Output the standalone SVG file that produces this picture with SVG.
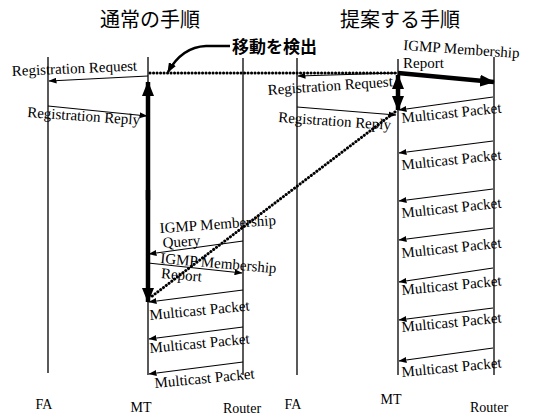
<svg xmlns="http://www.w3.org/2000/svg" width="535" height="419" viewBox="0 0 535 419">
<defs>
<style>
.bg{fill:#fff}
.life{stroke:#000;stroke-width:1.3;fill:none}
.msg{stroke:#000;stroke-width:1.2;fill:none;marker-end:url(#ah)}
.thick{stroke:#000;stroke-width:4.5;fill:none;marker-end:url(#big)}
.dots{stroke:#000;stroke-width:3;fill:none;stroke-dasharray:0.1 3.4;stroke-linecap:round}
.lbl{font-family:"Liberation Serif","DejaVu Serif",serif;font-size:15px;fill:#000}
.nm{font-family:"Liberation Serif","DejaVu Serif",serif;font-size:14px;fill:#000}
.jp{font-family:"Noto Sans CJK JP","Noto Sans",sans-serif;fill:#000}
</style>
<marker id="ah" markerUnits="userSpaceOnUse" markerWidth="8" markerHeight="6" refX="7.5" refY="3" orient="auto"><path d="M0,0 L8,3 L0,6 z" fill="#000"/></marker>
<marker id="big" markerUnits="userSpaceOnUse" markerWidth="15" markerHeight="12" refX="14" refY="6" orient="auto-start-reverse"><path d="M0,0 L15,6 L0,12 z" fill="#000"/></marker>
<marker id="cur" markerUnits="userSpaceOnUse" markerWidth="10" markerHeight="8" refX="9" refY="4" orient="auto"><path d="M0,0 L10,4 L0,8 z" fill="#000"/></marker>
</defs>
<rect class="bg" x="0" y="0" width="535" height="419"/>

<text class="jp" x="150" y="27" font-size="20" text-anchor="middle">通常の手順</text>
<text class="jp" x="400" y="27" font-size="20" text-anchor="middle">提案する手順</text>

<g id="fa-left"><line class="life" x1="48" y1="57" x2="48" y2="373"/><text class="nm" x="44" y="409" text-anchor="middle">FA</text></g>
<g id="mt-left"><line class="life" x1="148" y1="57" x2="148" y2="375"/><text class="nm" x="141" y="412" text-anchor="middle">MT</text></g>
<g id="router-left"><line class="life" x1="243" y1="58" x2="243" y2="375"/><text class="nm" x="242" y="413" text-anchor="middle">Router</text></g>
<g id="fa-right"><line class="life" x1="297" y1="58" x2="297" y2="375"/><text class="nm" x="293" y="409" text-anchor="middle">FA</text></g>
<g id="mt-right"><line class="life" x1="398" y1="59" x2="398" y2="375"/><text class="nm" x="391" y="404" text-anchor="middle">MT</text></g>
<g id="router-right"><line class="life" x1="494" y1="57" x2="494" y2="375"/><text class="nm" x="489" y="412" text-anchor="middle">Router</text></g>

<g id="annotation">
<text class="jp" x="232" y="53" font-size="17" font-weight="bold">移動を検出</text>
<path d="M230,46 L206,46 Q182,47 168,72" stroke="#000" stroke-width="2.5" fill="none" marker-end="url(#cur)"/>
</g>

<g id="connectors">
<line class="dots" x1="150" y1="73" x2="397" y2="73"/>
<line class="dots" x1="395" y1="112" x2="151" y2="297"/>

<line class="msg" x1="148" y1="76" x2="49" y2="81"/>
<text class="lbl" transform="translate(12,76) rotate(-2.5)">Registration Request</text>
<line class="msg" x1="48" y1="106" x2="147" y2="116"/>
<text class="lbl" transform="translate(27,117) rotate(4)">Registration Reply</text>
<line class="thick" x1="148" y1="200" x2="148" y2="82"/>
<line class="thick" x1="148" y1="190" x2="148" y2="302"/>

<line class="msg" x1="243" y1="241" x2="149" y2="254"/>
<text class="lbl" transform="translate(160,233) rotate(-4)">IGMP Membership<tspan x="2" dy="15">Query</tspan></text>
<line class="msg" x1="148" y1="263" x2="242" y2="273"/>
<text class="lbl" transform="translate(160,263) rotate(5)">IGMP Membership<tspan x="2" dy="15">Report</tspan></text>

<line class="msg" x1="243" y1="290" x2="149" y2="302"/>
<text class="lbl" transform="translate(150,320) rotate(-5.5)">Multicast Packet</text>
<line class="msg" x1="243" y1="327" x2="149" y2="339"/>
<text class="lbl" transform="translate(150,353) rotate(-5.5)">Multicast Packet</text>
<line class="msg" x1="243" y1="362" x2="149" y2="374"/>
<text class="lbl" transform="translate(155,388) rotate(-5.5)">Multicast Packet</text>

<line class="msg" x1="397" y1="73" x2="298" y2="76"/>
<text class="lbl" transform="translate(268,95) rotate(-4)">Registration Request</text>
<line class="msg" x1="297" y1="107" x2="396" y2="115"/>
<text class="lbl" transform="translate(278,122) rotate(4)">Registration Reply</text>
<line class="thick" x1="398" y1="73" x2="494" y2="82"/>
<text class="lbl" transform="translate(403,50) rotate(4)">IGMP Membership</text>
<text class="lbl" x="403" y="68">Report</text>
<line class="thick" x1="398" y1="92" x2="398" y2="75"/>
<line class="thick" x1="398" y1="92" x2="398" y2="110"/>

<line class="msg" x1="493" y1="97" x2="399" y2="110"/>
<text class="lbl" transform="translate(402,123) rotate(-6)">Multicast Packet</text>
<line class="msg" x1="493" y1="141" x2="399" y2="153"/>
<text class="lbl" transform="translate(402,170) rotate(-6)">Multicast Packet</text>
<line class="msg" x1="493" y1="189" x2="399" y2="201"/>
<text class="lbl" transform="translate(402,218) rotate(-6)">Multicast Packet</text>
<line class="msg" x1="493" y1="228" x2="399" y2="240"/>
<text class="lbl" transform="translate(402,258) rotate(-6)">Multicast Packet</text>
<line class="msg" x1="493" y1="268" x2="399" y2="282"/>
<text class="lbl" transform="translate(402,295) rotate(-5.5)">Multicast Packet</text>
<line class="msg" x1="493" y1="308" x2="399" y2="320"/>
<text class="lbl" transform="translate(402,332) rotate(-5.5)">Multicast Packet</text>
<line class="msg" x1="493" y1="348" x2="399" y2="361"/>
<text class="lbl" transform="translate(402,377) rotate(-5.5)">Multicast Packet</text>
</g>
</svg>
